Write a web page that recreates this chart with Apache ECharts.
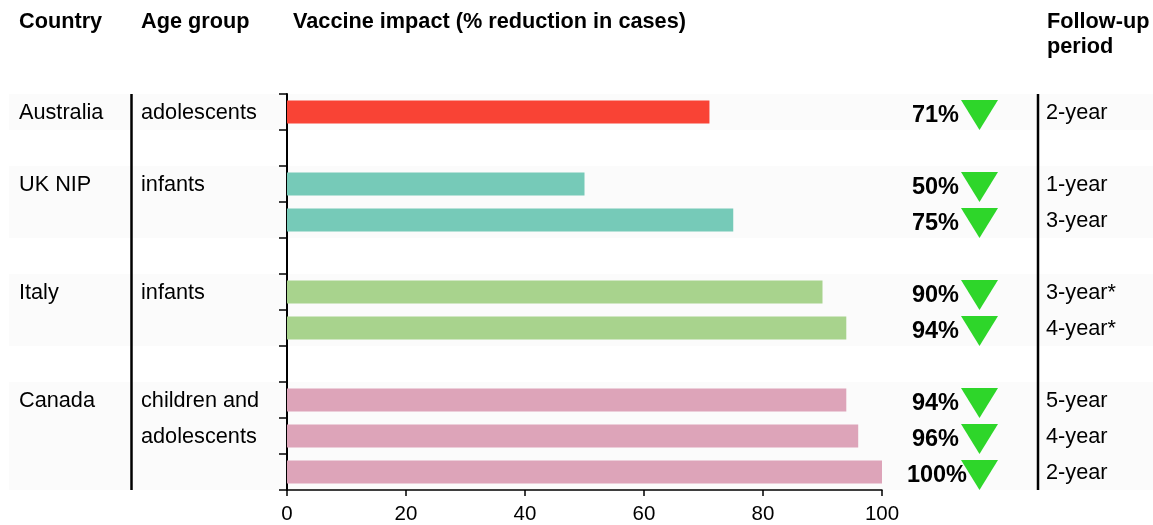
<!DOCTYPE html>
<html>
<head>
<meta charset="utf-8">
<style>
  html, body { margin: 0; padding: 0; background: #fff; }
  #chart { width: 1153px; height: 525px; }
</style>
<script src="https://cdn.jsdelivr.net/npm/echarts@6/dist/echarts.min.js"></script>
</head>
<body>
<div id="chart"></div>
<script>
// one row per band of the y axis, blank rows are the gaps between countries
const countries = ['Australia', '', 'UK NIP', '', '', 'Italy', '', '', 'Canada', '', '']
const ageGroups = ['adolescents', '', 'infants', '', '', 'infants', '', '', 'children and', 'adolescents', '']
const impact = [71, null, 50, 75, null, 90, 94, null, 94, 96, 100]
const followUp = ['2-year', '', '1-year', '3-year', '', '3-year*', '4-year*', '', '5-year', '4-year', '2-year']
const rowGroup = [0, null, 1, 1, null, 2, 2, null, 3, 3, 3]
const bandRows = [[0, 0], [2, 3], [5, 6], [8, 10]]
const xTicks = [0, 20, 40, 60, 80, 100]

const groupColors = ['#f94335', '#76cab8', '#a8d38d', '#dda4b9']
const font = '"Liberation Sans", Arial, sans-serif'
const textColor = '#000'

const chart = echarts.init(document.getElementById('chart'))

function cellText(x, y, text, size, weight, align) {
  return {
    type: 'text',
    style: {
      x: x,
      y: y,
      text: text,
      fill: textColor,
      font: (weight || 'normal') + ' ' + size + 'px ' + font,
      textAlign: align || 'left',
      textVerticalAlign: 'middle'
    }
  }
}

function headerText(x, y, text) {
  return {
    type: 'text',
    x: x,
    y: y,
    silent: true,
    style: {
      text: text,
      fill: textColor,
      font: 'bold 21.7px ' + font,
      verticalAlign: 'middle'
    }
  }
}

function divider(x) {
  return {
    type: 'line',
    silent: true,
    z: 100,
    shape: { x1: x, y1: 94, x2: x, y2: 490 },
    style: { stroke: '#000', lineWidth: 2.5 }
  }
}

chart.setOption({
  animation: false,
  grid: { left: 287, top: 94, width: 595, height: 396, containLabel: false },
  xAxis: {
    type: 'value',
    min: 0,
    max: 100,
    interval: 20,
    splitLine: { show: false },
    axisLine: { show: true, lineStyle: { color: '#000', width: 1.5 } },
    axisTick: { show: true, length: 6, lineStyle: { color: '#000', width: 1.5 } },
    axisLabel: {
      margin: 14,
      color: textColor,
      fontFamily: font,
      fontSize: 20.5,
      customValues: xTicks
    }
  },
  yAxis: {
    type: 'category',
    inverse: true,
    data: impact.map((v, i) => i),
    axisLine: { show: true, lineStyle: { color: '#000', width: 2 } },
    axisTick: { show: true, length: 8, lineStyle: { color: '#000', width: 1.5 } },
    axisLabel: { show: false },
    splitLine: { show: false }
  },
  graphic: [
    headerText(19, 22, 'Country'),
    headerText(141, 22, 'Age group'),
    headerText(293, 22, 'Vaccine impact (% reduction in cases)'),
    headerText(1047, 22, 'Follow-up'),
    headerText(1047, 47, 'period'),
    divider(131.5),
    divider(1038)
  ],
  series: [
    {
      // pale rows behind each country
      type: 'custom',
      z: 0,
      silent: true,
      data: bandRows,
      encode: { y: 0 },
      renderItem: function (params, api) {
        const rowH = api.size([0, 1])[1]
        const top = api.coord([0, api.value(0)])[1] - rowH / 2
        const bottom = api.coord([0, api.value(1)])[1] + rowH / 2
        return {
          type: 'rect',
          shape: { x: 9, y: top, width: 1144, height: bottom - top },
          style: { fill: '#fbfbfb' }
        }
      }
    },
    {
      type: 'bar',
      z: 2,
      barWidth: 23,
      silent: true,
      data: impact.map((v, i) => ({
        value: v,
        itemStyle: { color: rowGroup[i] === null ? 'transparent' : groupColors[rowGroup[i]] }
      }))
    },
    {
      // table columns and the percent + arrow cells
      type: 'custom',
      z: 3,
      silent: true,
      data: impact.map((v, i) => [v === null ? 0 : v, i]),
      encode: { x: 0, y: 1 },
      renderItem: function (params, api) {
        const i = api.value(1)
        const y = api.coord([0, i])[1]
        const children = [
          cellText(19, y + 1.5, countries[i], 21.7),
          cellText(141, y + 1.5, ageGroups[i], 21.7),
          cellText(1046, y + 1.5, followUp[i], 21.7)
        ]
        if (impact[i] !== null) {
          children.push(cellText(impact[i] === 100 ? 967 : 959, y + 3.5, impact[i] + '%', 23.5, 'bold', 'right'))
          children.push({
            type: 'polygon',
            shape: { points: [[961, y - 12], [998, y - 12], [979.5, y + 18]] },
            style: { fill: '#2ed62a' }
          })
        }
        return { type: 'group', children: children }
      }
    }
  ]
})
</script>
</body>
</html>
